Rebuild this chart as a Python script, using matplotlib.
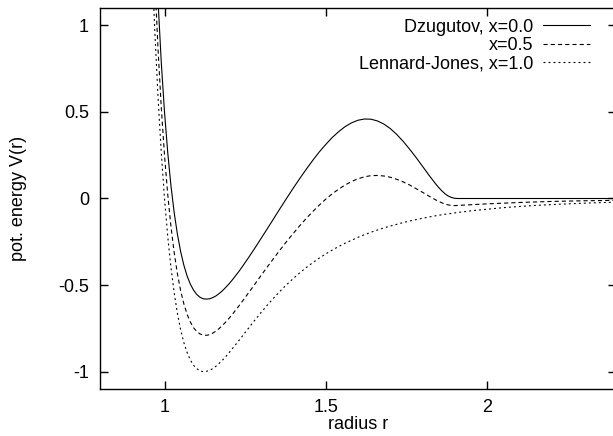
import matplotlib
matplotlib.use('Agg')
import matplotlib.pyplot as plt

# _____________________________________________________________________________
#                       Dados
# _____________________________________________________________________________
RADIUS = [0.95, 0.96, 0.97, 0.98, 0.99, 1.00, 1.01, 1.02, 1.03, 1.04,
          1.05, 1.06, 1.07, 1.08, 1.09, 1.10, 1.11, 1.12, 1.13, 1.14,
          1.15, 1.16, 1.17, 1.18, 1.19, 1.20, 1.21, 1.22, 1.23, 1.24,
          1.25, 1.26, 1.27, 1.28, 1.29, 1.30, 1.32, 1.34, 1.36, 1.38,
          1.40, 1.42, 1.44, 1.46, 1.48, 1.50, 1.52, 1.54, 1.56, 1.58,
          1.60, 1.62, 1.64, 1.66, 1.68, 1.70, 1.72, 1.74, 1.76, 1.78,
          1.80, 1.82, 1.84, 1.85, 1.86, 1.87, 1.88, 1.89, 1.90, 1.91,
          1.92, 1.93, 1.94, 1.95, 1.96, 2.00, 2.05, 2.10, 2.15, 2.20,
          2.25, 2.30, 2.35, 2.40]

V_DZUGUTOV = [2.721, 2.087, 1.566, 1.138, .787, .500, .266, .074, -.081, -.206,
              -.306, -.385, -.447, -.494, -.529, -.554, -.570, -.579, -.581, -.579,
              -.572, -.562, -.548, -.532, -.513, -.493, -.471, -.447, -.423, -.397,
              -.370, -.343, -.315, -.287, -.258, -.229, -.171, -.112, -.053, .005,
              .062, .117, .170, .221, .269, .312, .352, .386, .415, .437,
              .452, .459, .458, .448, .430, .404, .370, .330, .285, .237,
              .186, .135, .086, .064, .044, .027, .014, .006, .001, .000,
              .000, .000, .000, .000, .000, .000, .000, .000, .000, .000,
              .000, .000, .000, .000]

V_MIX = [2.341, 1.752, 1.264, .860, .526, .250, .024, -.162, -.312, -.434,
         -.532, -.608, -.668, -.713, -.746, -.768, -.782, -.789, -.790, -.786,
         -.777, -.765, -.750, -.732, -.713, -.692, -.670, -.646, -.622, -.597,
         -.572, -.546, -.521, -.495, -.469, -.443, -.392, -.342, -.293, -.245,
         -.200, -.156, -.114, -.075, -.038, -.004, .027, .054, .078, .098,
         .114, .125, .132, .133, .130, .123, .111, .096, .078, .057,
         .036, .014, -.007, -.017, -.025, -.032, -.037, -.040, -.041, -.040,
         -.039, -.038, -.037, -.036, -.035, -.031, -.027, -.023, -.020, -.017,
         -.015, -.013, -.012, -.010]

V_LJ = [1.961, 1.418, 0.963, 0.582, 0.264, 0.000, -0.218, -0.398, -0.544, -0.663,
        -0.758, -0.832, -0.889, -0.932, -0.963, -0.983, -0.995, -1.000, -0.998, -0.992,
        -0.982, -0.968, -0.951, -0.933, -0.913, -0.891, -0.868, -0.845, -0.822, -0.798,
        -0.774, -0.750, -0.726, -0.703, -0.680, -0.657, -0.613, -0.572, -0.532, -0.495,
        -0.461, -0.428, -0.398, -0.370, -0.344, -0.320, -0.298, -0.277, -0.258, -0.241,
        -0.224, -0.209, -0.195, -0.182, -0.170, -0.159, -0.149, -0.139, -0.130, -0.122,
        -0.114, -0.107, -0.100, -0.097, -0.094, -0.091, -0.089, -0.086, -0.083, -0.081,
        -0.078, -0.076, -0.074, -0.071, -0.069, -0.062, -0.053, -0.046, -0.040, -0.035,
        -0.031, -0.027, -0.024, -0.021]

LABELS = ['Dzugutov, x=0.0', 'x=0.5', 'Lennard-Jones, x=1.0']
XTICKS = [1, 1.5, 2]
XTICKLABELS = ['1', '1.5', '2']
YTICKS = [-1, -0.5, 0, 0.5, 1]
YTICKLABELS = ['-1', '-0.5', '0', '0.5', '1']

# _____________________________________________________________________________
#                               Plotando
# _____________________________________________________________________________
plt.rcParams['font.family'] = 'Liberation Sans'
plt.rcParams['font.size'] = 13
plt.rcParams['lines.scale_dashes'] = False

fig = plt.figure(figsize=(6.13, 4.36), dpi=100)
ax = fig.add_axes([100 / 613, 1 - 389 / 436, 516 / 613, 381 / 436])

styles = ['-', (0, (3, 2.2)), (0, (1.4, 2.2))]
for vals, lab, ls in zip([V_DZUGUTOV, V_MIX, V_LJ], LABELS, styles):
    ax.plot(RADIUS, vals, color='black', lw=0.8, ls=ls, label=lab)

ax.set_xlim(0.8, 2.4)
ax.set_ylim(-1.1, 1.1)
ax.set_xticks(XTICKS)
ax.set_xticklabels(XTICKLABELS)
ax.set_yticks(YTICKS)
ax.set_yticklabels(YTICKLABELS)
ax.tick_params(direction='in', length=6, width=1.0, top=True, right=True)
ax.tick_params(axis='y', pad=8)
ax.tick_params(axis='x', pad=7)
for sp in ax.spines.values():
    sp.set_linewidth(1.0)

ax.set_xlabel('radius r', labelpad=0)
ax.set_ylabel('pot. energy V(r)', labelpad=22)

leg = ax.legend(loc='upper right', bbox_to_anchor=(0.9496, 0.972),
                frameon=False, markerfirst=False, handlelength=2.6,
                handletextpad=0.55, labelspacing=0.08, borderpad=0,
                borderaxespad=0)
for t in leg.get_texts():
    t.set_ha('right')

fig.savefig('out.png', dpi=100)
